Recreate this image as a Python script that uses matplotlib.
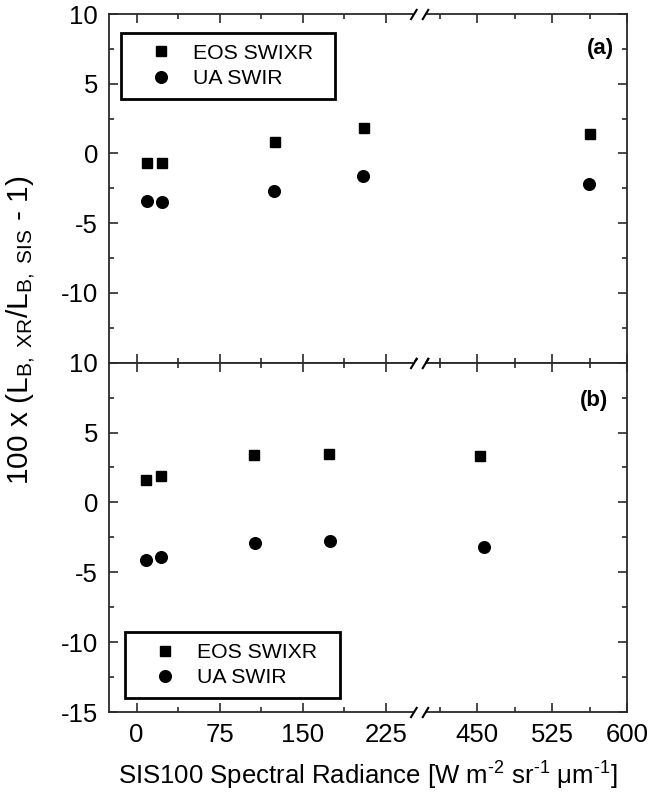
import numpy as np
import matplotlib
matplotlib.use("Agg")
import matplotlib.pyplot as plt
from matplotlib.path import Path
from matplotlib.ticker import FixedLocator, NullFormatter, FixedFormatter

plt.rcParams['font.family'] = ['Liberation Sans', 'DejaVu Sans']
plt.rcParams['mathtext.fontset'] = 'custom'
plt.rcParams['mathtext.rm'] = 'Liberation Sans'
plt.rcParams['mathtext.it'] = 'Liberation Sans:italic'
plt.rcParams['mathtext.bf'] = 'Liberation Sans:bold'

# ---------------- data ----------------
series_names = ["EOS SWIXR", "UA SWIR"]

# panel (a)
a_x_eos = [9.0, 22.6, 124.6, 204.9, 563.0]
a_y_eos = [-0.70, -0.70, 0.85, 1.81, 1.40]
a_x_ua = [9.0, 22.6, 123.8, 204.2, 561.7]
a_y_ua = [-3.41, -3.46, -2.67, -1.61, -2.19]

# panel (b)
b_x_eos = [8.8, 21.8, 106.2, 173.4, 453.2]
b_y_eos = [1.60, 1.91, 3.37, 3.46, 3.30]
b_x_ua = [8.1, 21.8, 107.1, 174.4, 456.7]
b_y_ua = [-4.12, -3.93, -2.93, -2.74, -3.17]

x_major = [0, 75, 150, 225, 450, 525, 600]
x_minor = [37.5, 112.5, 187.5, 412.5, 487.5, 562.5]
y_major = [-15, -10, -5, 0, 5, 10]
y_minor = [-12.5, -7.5, -2.5, 2.5, 7.5]
panel_labels = ["(a)", "(b)"]

xlabel = ("SIS100 Spectral Radiance [W m$^{\\text{-2}}$ sr$^{\\text{-1}}$ "
          "\u03bcm$^{\\text{-1}}$]")
ylabel = "100 x (L$_{\\mathrm{B,\\ XR}}$/L$_{\\mathrm{B,\\ SIS}}$ - 1)"

# ---------------- broken x scale ----------------
BL = 255.0     # left segment ends
BR = 391.7     # right segment starts
R = 1.0 / 1.107


def fwd(x):
    x = np.asarray(x, dtype=float)
    return np.where(x <= BL, x, np.where(x >= BR, BL + (x - BR) * R, BL))


def inv(y):
    y = np.asarray(y, dtype=float)
    return np.where(y <= BL, y, BR + (y - BL) / R)


W, H = 651, 802
fig = plt.figure(figsize=(W / 100, H / 100), dpi=100)

left = 109 / W
right = 627.3 / W
y_top = 1 - 14 / H
y_mid = 1 - 362.7 / H
y_bot = 1 - 712 / H

ax1 = fig.add_axes([left, y_mid, right - left, y_top - y_mid])
ax2 = fig.add_axes([left, y_bot, right - left, y_mid - y_bot], sharex=ax1)

spine_col = "#2a2a2a"

slash_path = Path([(-9, -5.5), (-2.3, 5.5), (2.7, -5.5), (9.3, 5.5)],
                  [Path.MOVETO, Path.LINETO, Path.MOVETO, Path.LINETO])
gap_path = Path([(-6, 0), (6, 0)], [Path.MOVETO, Path.LINETO])

for ax, xe, ye, xu, yu in [(ax1, a_x_eos, a_y_eos, a_x_ua, a_y_ua),
                           (ax2, b_x_eos, b_y_eos, b_x_ua, b_y_ua)]:
    ax.set_xscale('function', functions=(fwd, inv))
    ax.set_xlim(-25, 600)
    ax.set_ylim(-15, 10)
    ax.plot(xe, ye, linestyle='none', marker='s', markersize=7.2, color='black',
            label=series_names[0])
    ax.plot(xu, yu, linestyle='none', marker='o', markersize=8.4, color='black',
            label=series_names[1])
    for s in ax.spines.values():
        s.set_linewidth(1.3)
        s.set_color(spine_col)
    ax.xaxis.set_major_locator(FixedLocator(x_major))
    ax.xaxis.set_minor_locator(FixedLocator(x_minor))
    ax.yaxis.set_major_locator(FixedLocator(y_major))
    ax.yaxis.set_minor_locator(FixedLocator(y_minor))
    ax.xaxis.set_minor_formatter(NullFormatter())
    ax.tick_params(which='both', direction='in', top=True, right=True,
                   color=spine_col, width=1.2, labelsize=18.5, pad=8)
    ax.tick_params(which='major', length=6.2)
    ax.tick_params(which='minor', length=3.8)
    # break marks
    trans = ax.get_xaxis_transform()
    for yy in (0, 1):
        ax.plot([BL], [yy], transform=trans, marker=gap_path, markersize=8.6,
                markeredgewidth=3.5, color='white', clip_on=False, zorder=10)
        ax.plot([BL], [yy], transform=trans, marker=slash_path, markersize=13.4,
                markeredgewidth=1.5, color='black', clip_on=False, zorder=11)

ax1.text(0.975, 0.9, panel_labels[0], transform=ax1.transAxes, ha='right', va='center',
         fontsize=16, fontweight='bold')
ax2.text(0.9635, 0.893, panel_labels[1], transform=ax2.transAxes, ha='right', va='center',
         fontsize=16, fontweight='bold')

plt.setp(ax1.get_xticklabels(), visible=False)
ax1.yaxis.set_major_formatter(FixedFormatter(["", "-10", "-5", "0", "5", "10"]))
ax2.yaxis.set_major_formatter(FixedFormatter(["-15", "-10", "-5", "0", "5", "10"]))
ax2.xaxis.set_major_formatter(FixedFormatter([str(v) for v in x_major]))

leg_kw = dict(fontsize=15.3, frameon=True, fancybox=False, shadow=False, framealpha=1,
              edgecolor='black', borderpad=0.5, handlelength=2.8, handletextpad=0.1,
              labelspacing=0.3, mode='expand', borderaxespad=0)
leg1 = ax1.legend(loc='upper left', bbox_to_anchor=(0.0232, 0.7419, 0.4129, 0.2036), **leg_kw)
leg2 = ax2.legend(loc='lower left', bbox_to_anchor=(0.0301, 0.040, 0.4156, 0.204), **leg_kw)
for lg in (leg1, leg2):
    lg.get_frame().set_linewidth(2.0)

ax2.set_xlabel(xlabel, fontsize=18.5, labelpad=9)
fig.text(21 / W, 1 - 330 / H, ylabel, rotation=90, ha='center', va='center', fontsize=21.5)

fig.savefig("out.png", dpi=100)
